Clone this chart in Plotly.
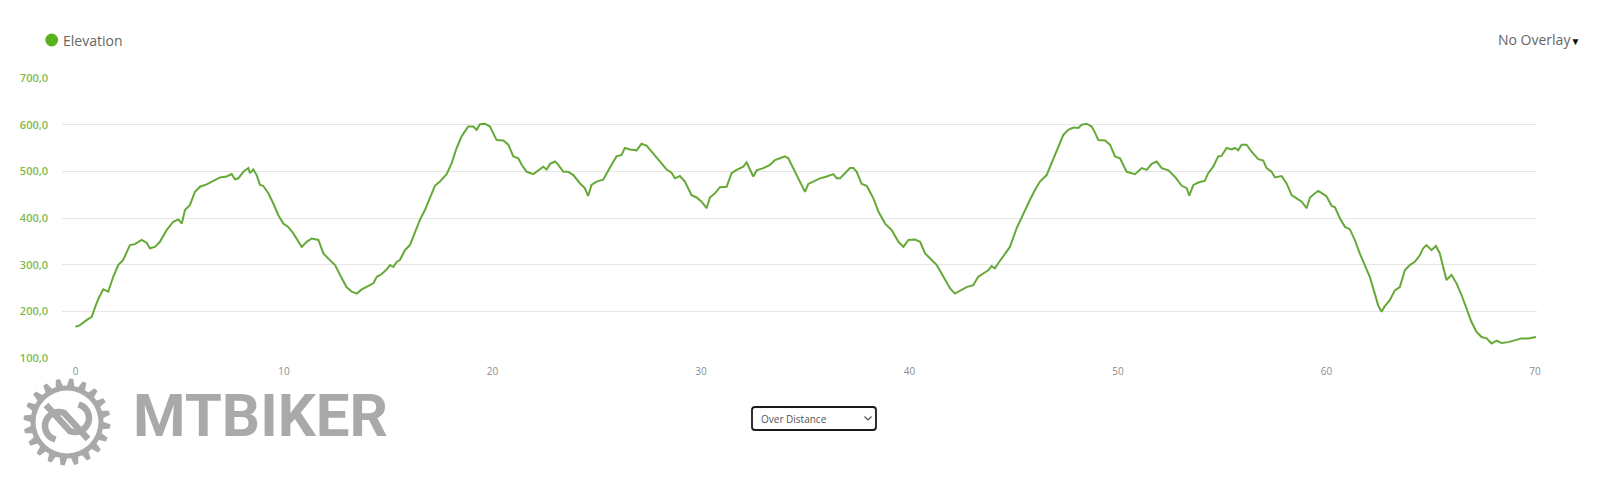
import numpy as np
import plotly.graph_objects as go

# ---------------- data ----------------
distance_km = [
    0.0, 0.2, 0.53, 0.78, 0.94, 1.1, 1.33, 1.57, 1.81, 2.05, 2.29, 2.61, 2.85, 3.17, 3.41, 3.57, 3.81,
    4.05, 4.37, 4.69, 4.93, 5.1, 5.25, 5.49, 5.73, 5.97, 6.29, 6.61, 6.93, 7.25, 7.49, 7.65, 7.81,
    8.05, 8.29, 8.37, 8.53, 8.69, 8.85, 9.0, 9.25, 9.49, 9.73, 9.97, 10.2, 10.45, 10.69, 10.85,
    11.09, 11.33, 11.65, 11.89, 12.13, 12.45, 12.69, 13.0, 13.25, 13.49, 13.73, 13.97, 14.29, 14.45,
    14.69, 14.93, 15.09, 15.25, 15.4, 15.56, 15.8, 16.04, 16.28, 16.52, 16.76, 17.0, 17.24,
    17.48, 17.8, 18.04, 18.28, 18.52, 18.68, 18.84, 19.08, 19.24, 19.4, 19.64, 19.88, 20.04, 20.2,
    20.52, 20.76, 21.0, 21.24, 21.4, 21.64, 21.96, 22.2, 22.44, 22.6, 22.76, 23.0, 23.16, 23.4,
    23.64, 23.88, 24.2, 24.43, 24.59, 24.75, 24.99, 25.31, 25.47, 25.71, 25.95, 26.19, 26.35,
    26.59, 26.91, 27.15, 27.39, 27.71, 27.95, 28.11, 28.35, 28.59, 28.75, 28.99, 29.23, 29.55,
    29.79, 30.03, 30.27, 30.43, 30.67, 30.91, 31.23, 31.47, 31.71, 32.03, 32.19, 32.51, 32.67,
    32.99, 33.31, 33.55, 33.79, 34.03, 34.19, 34.43, 34.75, 34.99, 35.15, 35.39,
    35.71, 36.03, 36.35, 36.51, 36.67, 36.91, 37.15, 37.31, 37.47, 37.71, 37.95, 38.27, 38.51,
    38.83, 39.15, 39.47, 39.71, 39.95, 40.27, 40.51, 40.75, 41.07, 41.31, 41.63, 41.95, 42.18,
    42.5, 42.74, 43.06, 43.3, 43.54, 43.78, 43.94, 44.1, 44.26, 44.5, 44.82, 45.14, 45.46, 45.78,
    46.02, 46.26, 46.58, 46.9, 47.14, 47.38, 47.62, 47.86, 48.1, 48.26, 48.5, 48.74, 48.9, 49.06,
    49.38, 49.62, 49.86, 50.1, 50.42, 50.82, 51.14, 51.38, 51.62, 51.86, 52.1, 52.42, 52.74,
    53.06, 53.3, 53.42, 53.62, 53.86,
    54.17, 54.33, 54.57, 54.81, 54.97, 55.21, 55.45, 55.61, 55.77, 55.93, 56.17, 56.41, 56.73,
    56.97, 57.13, 57.37, 57.53, 57.85, 58.09, 58.33, 58.57, 58.81, 59.05, 59.21, 59.45, 59.61,
    59.85, 60.01, 60.25, 60.41, 60.65, 60.89, 61.12, 61.36, 61.6, 61.84, 62.08, 62.32, 62.48,
    62.64, 62.8, 63.04, 63.28, 63.52, 63.76, 64.0, 64.24, 64.48, 64.64, 64.8, 65.04, 65.25,
    65.44, 65.6, 65.76, 66.0, 66.24, 66.48, 66.72, 66.96, 67.2, 67.44, 67.68, 67.92, 68.16,
    68.4, 68.72, 69.04, 69.36, 69.68, 69.92, 70.05,
]
elevation_m = [
    167, 170, 181, 188, 209, 227, 247, 242, 274, 299, 310, 342, 344, 353, 347, 335, 338,
    349, 374, 392, 397, 388, 417, 428, 456, 467, 472, 480, 487, 489, 494, 483, 485,
    499, 507, 496, 504, 492, 471, 469, 453, 431, 406, 388, 381, 367, 349, 338,
    349, 356, 353, 324, 313, 299, 278, 252, 242, 238, 247, 252, 260, 274,
    280, 290, 299, 295, 306, 310, 331, 342, 371, 396, 417, 442, 469,
    478, 494, 517, 550, 575, 587, 596, 596, 589, 601, 602, 596, 582, 567,
    566, 557, 532, 528, 514, 499, 494, 503, 510, 504, 516, 521, 514, 499,
    499, 492, 474, 464, 447, 471, 478, 482, 496, 514, 532, 535, 550,
    547, 545, 559, 555, 539, 526, 517, 504, 497, 485, 490, 478, 449,
    444, 435, 421, 444, 453, 466, 467, 496, 503, 510, 519, 489, 502,
    507, 514, 524, 528, 532, 528, 507, 478, 456, 473, 478,
    485, 489, 494, 485, 485, 496, 507, 507, 499, 473, 469, 442, 414,
    388, 374, 349, 338, 353, 354, 349, 324, 310, 299, 274, 249, 238,
    245, 252, 256, 274, 281, 288, 297, 292, 303, 317, 338, 378, 410, 439,
    460, 478, 492, 528, 553, 578, 589, 594, 593, 600, 602, 596, 583, 567,
    566, 557, 532, 528, 499, 494, 507, 503, 516, 521, 507, 502, 488,
    469, 464, 448, 471, 476,
    480, 496, 510, 532, 533, 550, 547, 550, 545, 557, 557, 542, 526,
    523, 507, 499, 487, 490, 474, 449, 442, 435, 421, 444, 453, 458,
    451, 446, 426, 423, 399, 381, 376, 353, 324, 299, 274, 238, 213,
    199, 211, 224, 245, 252, 288, 299, 306, 320, 335, 342, 331, 340,
    324, 295, 267, 278, 260, 235, 206, 177, 156, 145, 142, 131, 137,
    132, 134, 138, 142, 142, 145, 145,
]

y_tick_values = [100, 200, 300, 400, 500, 600, 700]
y_tick_labels = ["100,0", "200,0", "300,0", "400,0", "500,0", "600,0", "700,0"]
x_tick_values = [0, 10, 20, 30, 40, 50, 60, 70]

# ---------------- layout geometry (pixels) ----------------
FIG_W, FIG_H = 1600, 485
L, R, T, B = 62, 63, 78, 127
PW, PH = FIG_W - L - R, FIG_H - T - B


def px(x):
    return (x - L) / PW


def py(y):
    return (FIG_H - B - y) / PH


def path_from(points, close=True):
    s = "M " + " L ".join(f"{px(x):.5f},{py(y):.5f}" for x, y in points)
    return s + (" Z" if close else "")


LINE_COLOR = "#66a938"
LOGO_GRAY = "#a9a9a9"

fig = go.Figure()
fig.add_trace(go.Scatter(
    x=distance_km, y=elevation_m, mode="lines",
    line=dict(color=LINE_COLOR, width=2, shape="linear"),
    name="Elevation", showlegend=False, hoverinfo="skip",
))

shapes = []
annotations = []

# legend dot + label
shapes.append(dict(type="circle", xref="paper", yref="paper",
                   x0=px(45.3), x1=px(58.1), y0=py(46.4), y1=py(33.6),
                   fillcolor="#56b21c", line=dict(width=0)))
annotations.append(dict(text="Elevation", xref="paper", yref="paper",
                        x=px(61), y=py(40), xanchor="left", yanchor="middle",
                        showarrow=False,
                        font=dict(family="Open Sans", size=14, color="#666666")))

# "No Overlay" selector
annotations.append(dict(text="No Overlay<span style='color:#111111;font-size:10px'>▼</span>",
                        xref="paper", yref="paper", x=px(1582), y=py(39),
                        xanchor="right", yanchor="middle", showarrow=False,
                        font=dict(family="Open Sans", size=14, color="#666666")))

# "Over Distance" dropdown box (rounded rectangle)
bx0, bx1, by0, by1, rr = 752, 876, 407, 430, 3
rounded = (
    f"M {px(bx0 + rr):.5f},{py(by0):.5f} L {px(bx1 - rr):.5f},{py(by0):.5f} "
    f"Q {px(bx1):.5f},{py(by0):.5f} {px(bx1):.5f},{py(by0 + rr):.5f} "
    f"L {px(bx1):.5f},{py(by1 - rr):.5f} "
    f"Q {px(bx1):.5f},{py(by1):.5f} {px(bx1 - rr):.5f},{py(by1):.5f} "
    f"L {px(bx0 + rr):.5f},{py(by1):.5f} "
    f"Q {px(bx0):.5f},{py(by1):.5f} {px(bx0):.5f},{py(by1 - rr):.5f} "
    f"L {px(bx0):.5f},{py(by0 + rr):.5f} "
    f"Q {px(bx0):.5f},{py(by0):.5f} {px(bx0 + rr):.5f},{py(by0):.5f} Z"
)
shapes.append(dict(type="path", xref="paper", yref="paper", path=rounded,
                   fillcolor="white", line=dict(color="#1a1a1a", width=1.8)))
shapes.append(dict(type="path", xref="paper", yref="paper",
                   path=path_from([(864.5, 416.5), (868, 420), (871.5, 416.5)], close=False),
                   line=dict(color="#555555", width=1.2)))
annotations.append(dict(text="Over Distance", xref="paper", yref="paper",
                        x=px(759), y=py(418.5), xanchor="left", yanchor="middle",
                        showarrow=False,
                        font=dict(family="Open Sans", size=10, color="#555555")))

# MTBIKER logo: gear
cx, cy = 67.0, 422.0
n_teeth = 20
pts = []
r_tip, r_root = 43.5, 36.5
for i in range(n_teeth):
    a0 = 2 * np.pi * i / n_teeth
    step = 2 * np.pi / n_teeth
    for frac, r in ((0.0, r_root), (0.17, r_tip), (0.47, r_tip), (0.64, r_root)):
        a = a0 + frac * step
        pts.append((cx + r * np.cos(a), cy + r * np.sin(a)))
shapes.append(dict(type="path", xref="paper", yref="paper", path=path_from(pts),
                   fillcolor=LOGO_GRAY, line=dict(width=0)))
shapes.append(dict(type="circle", xref="paper", yref="paper",
                   x0=px(cx - 31.5), x1=px(cx + 31.5), y0=py(cy + 31.5), y1=py(cy - 31.5),
                   fillcolor="white", line=dict(width=0)))


def hook(sign):
    # straight band from the inner rim to the centre, then an arc around
    pts_h = [(cx + sign * -21, cy + sign * -17), (cx + sign * 1, cy + sign * 7)]
    ccx, ccy = cx + sign * 8, cy + sign * -4
    start = np.arctan2(sign * 11, sign * -7)
    for k in range(1, 19):
        a = start - k * (np.pi * 1.1 / 18)
        pts_h.append((ccx + 14 * np.cos(a), ccy + 14 * np.sin(a)))
    return pts_h


for sgn in (1, -1):
    shapes.append(dict(type="path", xref="paper", yref="paper",
                       path=path_from(hook(sgn), close=False),
                       line=dict(color=LOGO_GRAY, width=6.5)))

annotations.append(dict(text="<b>MTBIKER</b>", xref="paper", yref="paper",
                        x=px(131), y=py(415), xanchor="left", yanchor="middle",
                        showarrow=False,
                        font=dict(family="Roboto", size=60, color=LOGO_GRAY)))

fig.update_layout(
    width=FIG_W, height=FIG_H,
    margin=dict(l=L, r=R, t=T, b=B, pad=0),
    paper_bgcolor="white", plot_bgcolor="white",
    showlegend=False,
    shapes=shapes, annotations=annotations,
    xaxis=dict(range=[-0.647, 70.10], tickvals=x_tick_values,
               showgrid=False, zeroline=False, showline=False, ticks="",
               ticklabelstandoff=6,
               tickfont=dict(family="Open Sans", size=10, color="#8c8c8c")),
    yaxis=dict(range=[100, 700], tickvals=y_tick_values, ticktext=y_tick_labels,
               showgrid=True, gridcolor="#e6e6e6", gridwidth=1,
               zeroline=False, showline=False, ticks="",
               ticklabelstandoff=13,
               tickfont=dict(family="Open Sans", size=11, color="#82ba4c", weight=600)),
)

fig.write_html("out.html", config={"displayModeBar": False},
               post_script="document.body.style.margin='0';")
